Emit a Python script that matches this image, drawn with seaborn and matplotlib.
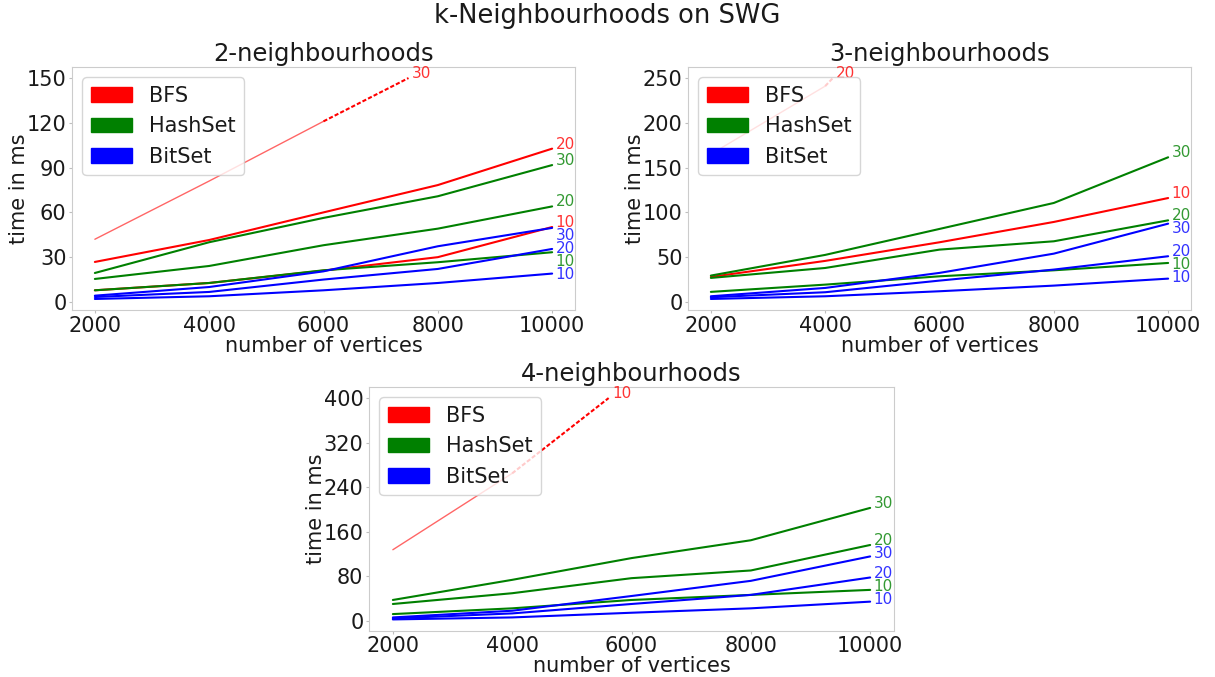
import numpy as np
import pandas as pd
import matplotlib
matplotlib.use("Agg")
import matplotlib.pyplot as plt
import seaborn as sns
from matplotlib.patches import Patch

# ---------------- data ----------------
sizes = [2000, 4000, 6000, 8000, 10000]
methods = ["BFS", "HashSet", "BitSet"]
method_colors = ["red", "green", "blue"]
panel_titles = ["2-neighbourhoods", "3-neighbourhoods", "4-neighbourhoods"]
suptitle = "k-Neighbourhoods on SWG"
xlabel = "number of vertices"
ylabel = "time in ms"
x_ticks = [2000, 4000, 6000, 8000, 10000]
y_ticks_k2 = [0, 30, 60, 90, 120, 150]
y_ticks_k3 = [0, 50, 100, 150, 200, 250]
y_ticks_k4 = [0, 80, 160, 240, 320, 400]

# 2-neighbourhoods
k2_bfs_10 = [7.8, 12.7, 21.0, 30.0, 50.2]
k2_bfs_20 = [26.8, 41.5, 60.0, 78.3, 102.7]
k2_bfs_30 = [42.0, 81.0, 121.0, 160.0, 200.0]
k2_hash_10 = [7.8, 12.7, 21.2, 26.6, 33.3]
k2_hash_20 = [15.4, 24.1, 38.0, 49.1, 64.0]
k2_hash_30 = [19.4, 40.0, 56.3, 70.8, 91.7]
k2_bit_10 = [2.0, 3.8, 7.8, 12.7, 19.0]
k2_bit_20 = [3.3, 6.7, 15.0, 22.1, 35.5]
k2_bit_30 = [4.2, 10.0, 20.5, 37.3, 49.6]

# 3-neighbourhoods
k3_bfs_10 = [27.9, 45.8, 66.6, 89.3, 116.0]
k3_bfs_20 = [165.0, 241.0, 375.0, 500.0, 650.0]
k3_hash_10 = [11.2, 19.3, 28.6, 35.3, 43.5]
k3_hash_20 = [26.8, 37.9, 58.4, 67.7, 91.1]
k3_hash_30 = [29.4, 52.5, 81.5, 110.5, 161.5]
k3_bit_10 = [3.3, 6.3, 11.9, 18.2, 26.0]
k3_bit_20 = [5.2, 10.8, 23.8, 36.1, 51.0]
k3_bit_30 = [6.3, 15.6, 32.4, 53.9, 87.4]

# 4-neighbourhoods
k4_bfs_10 = [128.0, 265.0, 432.0, 600.0, 800.0]
k4_hash_10 = [12.6, 22.9, 37.9, 47.0, 56.0]
k4_hash_20 = [30.7, 50.0, 77.0, 90.8, 136.5]
k4_hash_30 = [37.9, 74.0, 113.0, 145.0, 203.0]
k4_bit_10 = [3.0, 6.6, 15.0, 22.9, 34.9]
k4_bit_20 = [4.8, 13.8, 30.7, 47.0, 78.2]
k4_bit_30 = [6.6, 18.6, 45.0, 72.2, 116.0]

panels = [
    {"BFS": {10: k2_bfs_10, 20: k2_bfs_20, 30: k2_bfs_30},
     "HashSet": {10: k2_hash_10, 20: k2_hash_20, 30: k2_hash_30},
     "BitSet": {10: k2_bit_10, 20: k2_bit_20, 30: k2_bit_30}},
    {"BFS": {10: k3_bfs_10, 20: k3_bfs_20},
     "HashSet": {10: k3_hash_10, 20: k3_hash_20, 30: k3_hash_30},
     "BitSet": {10: k3_bit_10, 20: k3_bit_20, 30: k3_bit_30}},
    {"BFS": {10: k4_bfs_10},
     "HashSet": {10: k4_hash_10, 20: k4_hash_20, 30: k4_hash_30},
     "BitSet": {10: k4_bit_10, 20: k4_bit_20, 30: k4_bit_30}},
]
panel_yticks = [y_ticks_k2, y_ticks_k3, y_ticks_k4]

# ---------------- style / layout ----------------
sns.set_style("whitegrid")
plt.rcParams.update({
    "axes.grid": False,
    "axes.edgecolor": "0.8",
    "xtick.bottom": True,
    "ytick.left": True,
    "xtick.color": "0.75",
    "ytick.color": "0.75",
    "xtick.labelcolor": "0.1",
    "ytick.labelcolor": "0.1",
    "xtick.major.size": 2.5,
    "ytick.major.size": 2.5,
    "xtick.major.pad": 1.5,
    "ytick.major.pad": 1.5,
    "text.color": "0.1",
    "axes.labelcolor": "0.1",
})
plt.rcParams["font.family"] = ["DejaVu Sans"]

W, H = 1215, 677
fig = plt.figure(figsize=(W / 100, H / 100), dpi=100)
axes_px = [(72, 67, 503, 243), (688, 67, 503, 243), (369, 387, 525, 243.5)]
axes = [fig.add_axes([l / W, 1 - (t + h) / H, w / W, h / H]) for (l, t, w, h) in axes_px]

TICK_FS = 15
LABEL_FS = 15
TITLE_FS = 17.5
LEGEND_FS = 15
END_FS = 11
GAP_PX = 13

for ax, data, yt, title in zip(axes, panels, panel_yticks, panel_titles):
    cap = yt[-1]
    end_labels = []
    over_labels = []
    for m, col in zip(methods, method_colors):
        for deg, vals in data[m].items():
            vals = np.asarray(vals, dtype=float)
            xs = np.asarray(sizes, dtype=float)
            if vals.max() <= cap:
                sns.lineplot(x=xs, y=vals, color=col, lw=1.5, ax=ax,
                             legend=False, errorbar=None)
                end_labels.append((xs[-1], vals[-1], str(deg), col))
            else:
                i = int(np.argmax(vals > cap)) - 1
                xin, vin = xs[: i + 1], vals[: i + 1]
                if len(xin) > 1:
                    sns.lineplot(x=xin, y=vin, color=col, lw=1.0, alpha=0.6,
                                 ax=ax, legend=False, errorbar=None)
                xc = xs[i] + (cap - vals[i]) / (vals[i + 1] - vals[i]) * (xs[i + 1] - xs[i])
                ax.plot([xs[i], xc], [vals[i], cap], color=col, lw=1.5,
                        ls=(0, (2, 1)))
                over_labels.append((xc, cap, str(deg), col))

    ax.set_xticks(x_ticks)
    ax.set_yticks(yt)
    ax.autoscale_view()
    ax.set_xlim(ax.get_xlim())
    ax.set_ylim(ax.get_ylim())
    ax.tick_params(labelsize=TICK_FS)
    ax.set_xlabel(xlabel, fontsize=LABEL_FS, labelpad=0)
    ax.set_ylabel(ylabel, fontsize=LABEL_FS, labelpad=-2)
    ax.set_title(title, fontsize=TITLE_FS, pad=4)

    tr = ax.transData
    pts = sorted(end_labels, key=lambda e: -e[1])
    prev = None
    for (x, y, txt, col) in pts:
        px, py = tr.transform((x, y))
        if prev is not None and py > prev - GAP_PX:
            py = prev - GAP_PX
        prev = py
        _, yd = tr.inverted().transform((px, py))
        ax.annotate(txt, (x, yd), xytext=(2.5, 0), textcoords="offset points",
                    ha="left", va="baseline", color=col, alpha=0.8,
                    fontsize=END_FS, annotation_clip=False)
    for (x, y, txt, col) in over_labels:
        ax.annotate(txt, (x, y), xytext=(2.5, 0), textcoords="offset points",
                    ha="left", va="baseline", color=col, alpha=0.8,
                    fontsize=END_FS, annotation_clip=False)

    handles = [Patch(color=c, label=m) for m, c in zip(methods, method_colors)]
    ax.legend(handles=handles, loc="upper left", fontsize=LEGEND_FS, framealpha=0.8)

fig.suptitle(suptitle, fontsize=18.5, y=0.995)
fig.savefig("out.png", dpi=100)
